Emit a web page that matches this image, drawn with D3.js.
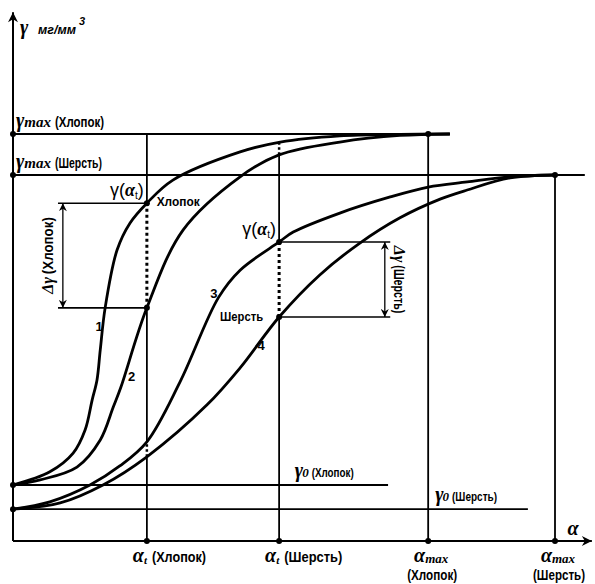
<!DOCTYPE html>
<html><head><meta charset="utf-8">
<script src="https://cdn.jsdelivr.net/npm/d3@7"></script>
<style>
body{margin:0;background:#fff;}
svg{display:block;}
.sans{font-family:"Liberation Sans","Arial",sans-serif;font-weight:bold;}
.serif{font-family:"Liberation Serif","Times New Roman",serif;font-weight:bold;font-style:italic;}
</style>
</head><body>
<svg id="c" width="595" height="584"></svg>
<script>
// ---- data (α in % of αmax(Шерсть), γ in % of γmax(Шерсть)) ----
const curve1 = [[0,15.3],[6.8,18.9],[11.1,24.0],[13.3,30.3],[14.6,38.5],[15.5,44.0],[16.1,52.2],[17.0,63.7],[19.2,79.5],[21.6,86.9],[24.7,92.3],[29.5,98.6],[41.9,106.3],[49.3,109.0],[60.3,110.7],[71.4,111.1],[80.6,111.2]];
const curve2 = [[0,15.3],[5.0,16.7],[11.8,20.2],[16.1,27.6],[18.5,36.6],[19.9,42.0],[24.7,63.7],[31.4,85.0],[41.9,99.5],[49.1,105.5],[60.3,109.0],[71.4,110.8],[80.6,111.2]];
const curve3 = [[0,8.7],[6.8,10.7],[14.2,15.3],[19.7,20.5],[24.7,27.1],[30.8,43.4],[37.9,66.5],[41.9,74.0],[49.1,81.7],[51.7,84.4],[60.3,89.6],[69.6,94.0],[76.6,96.7],[83.8,98.1],[91.7,99.5],[100,100]];
const curve4 = [[0,8.7],[8.7,10.4],[16.6,15.3],[24.7,23.0],[35.8,37.2],[41.9,47.3],[49.1,61.2],[56.6,72.7],[64.0,81.4],[71.4,88.3],[78.8,93.4],[83.8,95.9],[91.7,99.2],[100,100]];
const curveNames = ["1","2","3","4"];
const gammaMax = [111.2, 100];        // Хлопок, Шерсть
const gammaMaxEnd = [80.6, 105.5];
const gamma0 = [15.3, 8.7];           // Хлопок, Шерсть
const gamma0End = [69.2, 95.0];
const alphaT = [24.7, 49.1];          // Хлопок, Шерсть
const alphaMax = [76.6, 100];         // Хлопок, Шерсть
const gammaAtT = [[63.7, 92.3], [61.2, 81.7]]; // [low, high] for Хлопок, Шерсть
const deltaSpan = [[8.3, 24.7], [49.1, 69.6]];
const deltaArrowX = [9.2, 68.6];
const otherPair = [[23.0, 27.1], [105.5, 109.0]]; // crossings of the other material's curves
const axisEnd = {x: 106.8, y: 144.5};
const materials = ["Хлопок", "Шерсть"];

const svg = d3.select("#c");
const x = d3.scaleLinear().domain([0,100]).range([13,555]);
const y = d3.scaleLinear().domain([0,100]).range([541,175]);

const defs = svg.append("defs");
function marker(id, w, h){
  defs.append("marker").attr("id",id).attr("viewBox","0 0 10 10").attr("refX",10).attr("refY",5)
    .attr("markerWidth",w).attr("markerHeight",h).attr("orient","auto-start-reverse").attr("markerUnits","userSpaceOnUse")
    .append("path").attr("d","M0,0 L10,5 L0,10 L3,5 Z").attr("fill","#000");
}
marker("ax", 14, 10);
marker("da", 10, 8);

const g = svg.append("g");
const line = (x1,y1,x2,y2,w,dash) => g.append("line").attr("x1",x(x1)).attr("y1",y(y1)).attr("x2",x(x2)).attr("y2",y(y2))
  .attr("stroke","#000").attr("stroke-width",w).attr("stroke-dasharray",dash||null);

// axes
line(0,0,0,axisEnd.y,2).attr("marker-end","url(#ax)");
line(0,0,axisEnd.x,0,2).attr("marker-end","url(#ax)");

// horizontal levels
gammaMax.forEach((v,i)=>line(0,v,gammaMaxEnd[i],v,1.8));
gamma0.forEach((v,i)=>line(0,v,gamma0End[i],v,1.8));

// vertical αt lines with dotted segments
alphaT.forEach((a,i)=>{
  const [lo,hi] = gammaAtT[i];
  const [olo,ohi] = otherPair[i];
  if(i===0){
    line(a,0,a,olo,1.8); line(a,olo,a,ohi,2.5,"2.5,2.5");
    line(a,ohi,a,lo,1.8); line(a,lo,a,hi,3,"3,3"); line(a,hi,a,gammaMax[0],1.8);
  } else {
    line(a,0,a,lo,1.8); line(a,lo,a,hi,3,"3,3");
    line(a,hi,a,olo,1.8); line(a,olo,a,ohi,2.5,"2.5,2.5");
  }
});
alphaMax.forEach((a,i)=>line(a,0,a,gammaMax[i],1.8));

// Δγ brackets
gammaAtT.forEach((pair,i)=>{
  pair.forEach(v=>line(deltaSpan[i][0],v,deltaSpan[i][1],v,1.6));
  line(deltaArrowX[i],pair[0],deltaArrowX[i],pair[1],1.3).attr("marker-start","url(#da)").attr("marker-end","url(#da)");
});

// curves
const lg = d3.line().x(d=>x(d[0])).y(d=>y(d[1])).curve(d3.curveCatmullRom.alpha(0.5));
[curve1,curve2,curve3,curve4].forEach(c=>{
  g.append("path").attr("d",lg(c)).attr("fill","none").attr("stroke","#000").attr("stroke-width",2.8);
});

// dots
const dots = [];
gammaMax.forEach(v=>dots.push([0,v])); gamma0.forEach(v=>dots.push([0,v]));
alphaT.forEach(a=>dots.push([a,0])); alphaMax.forEach(a=>dots.push([a,0]));
alphaMax.forEach((a,i)=>dots.push([a,gammaMax[i]]));
gammaAtT.forEach((p,i)=>p.forEach(v=>dots.push([alphaT[i],v])));
g.selectAll(".dot").data(dots).enter().append("circle").attr("cx",d=>x(d[0])).attr("cy",d=>y(d[1])).attr("r",3).attr("fill","#000");

// ---- text ----
const T = svg.append("g").attr("fill","#000");
const narrow = (sel, len) => sel.attr("textLength",len).attr("lengthAdjust","spacingAndGlyphs");
// y axis title
T.append("text").attr("class","serif").attr("font-size",20).attr("x",20).attr("y",34).text("γ");
narrow(T.append("text").attr("class","sans").attr("font-style","italic").attr("font-size",12.5).attr("x",38).attr("y",34).text("мг/мм"), 38);
T.append("text").attr("class","sans").attr("font-style","italic").attr("font-size",11).attr("x",79).attr("y",25).text("3");

// γmax labels
const gmaxW = [49, 47];
gammaMax.forEach((v,i)=>{
  const t = T.append("text").attr("x",16).attr("y",y(v)-7);
  t.append("tspan").attr("class","serif").attr("font-size",20).text("γ");
  t.append("tspan").attr("class","serif").attr("font-size",15).text("max");
  narrow(t.append("tspan").attr("class","sans").attr("font-size",14).attr("dx",4).text("("+materials[i]+")"), gmaxW[i]);
});
// γ0 labels
const g0W = [42, 45];
gamma0.forEach((v,i)=>{
  const t = T.append("text").attr("x",i===0?x(52.0):x(77.9)).attr("y",y(v)-8);
  t.append("tspan").attr("class","serif").attr("font-size",20).text("γ");
  t.append("tspan").attr("class","serif").attr("font-size",13).attr("dx",-1).text("0");
  narrow(t.append("tspan").attr("class","sans").attr("font-size",13).attr("dx",3).text("("+materials[i]+")"), g0W[i]);
});
// γ(αt) labels
gammaAtT.forEach((p,i)=>{
  const t = T.append("text").attr("x",x(alphaT[i])-3).attr("y",y(p[1])-7).attr("text-anchor","end")
    .attr("font-family","Liberation Sans, sans-serif").attr("font-size",18);
  t.append("tspan").text("γ(");
  t.append("tspan").attr("class","serif").attr("font-size",18).text("α");
  t.append("tspan").attr("font-size",10).attr("dy",3).text("t");
  t.append("tspan").attr("dy",-3).text(")");
});
// material labels near curves
narrow(T.append("text").attr("class","sans").attr("font-size",13).attr("x",x(26.5)).attr("y",y(92.3)+3).text(materials[0]), 43);
narrow(T.append("text").attr("class","sans").attr("font-size",13).attr("x",x(38.2)).attr("y",y(61.2)+4).text(materials[1]), 43);
// curve numbers
const numPos = [[15.2,57.4],[21.2,43.7],[36.4,66.3],[45.1,52.2]];
curveNames.forEach((n,i)=>T.append("text").attr("class","sans").attr("font-size",13)
  .attr("x",x(numPos[i][0])).attr("y",y(numPos[i][1])).text(n));
// Δγ labels
const dW = [57, 48];
[[-90, x(6.5), (y(gammaAtT[0][0])+y(gammaAtT[0][1]))/2],[90, x(71.2), (y(gammaAtT[1][0])+y(gammaAtT[1][1]))/2]].forEach((d,i)=>{
  const t = T.append("text").attr("transform",`translate(${d[1]},${d[2]}) rotate(${d[0]})`).attr("text-anchor","middle").attr("dy",5);
  t.append("tspan").attr("class","serif").attr("font-size",16).text("Δγ");
  narrow(t.append("tspan").attr("class","sans").attr("font-size",14).attr("dx",3).text("("+materials[i]+")"), dW[i]);
});
// x axis labels
T.append("text").attr("class","serif").attr("font-size",20).attr("x",x(102.3)).attr("y",y(0)-6).text("α");
const atW = [54, 58];
alphaT.forEach((a,i)=>{
  const t = T.append("text").attr("x",x(a)-14).attr("y",y(0)+21);
  t.append("tspan").attr("class","serif").attr("font-size",20).text("α");
  t.append("tspan").attr("class","serif").attr("font-size",11).attr("dy",2).text("t");
  narrow(t.append("tspan").attr("class","sans").attr("font-size",14).attr("dy",-2).attr("dx",5).text("("+materials[i]+")"), atW[i]);
});
const amW = [50, 52];
alphaMax.forEach((a,i)=>{
  const t = T.append("text").attr("x",x(a)+3).attr("y",y(0)+21).attr("text-anchor","middle");
  t.append("tspan").attr("class","serif").attr("font-size",20).text("α");
  t.append("tspan").attr("class","serif").attr("font-size",13).attr("dy",1).text("max");
  narrow(T.append("text").attr("class","sans").attr("font-size",14).attr("x",x(a)+4).attr("y",y(0)+39).attr("text-anchor","middle").text("("+materials[i]+")"), amW[i]);
});
</script>
</body></html>
